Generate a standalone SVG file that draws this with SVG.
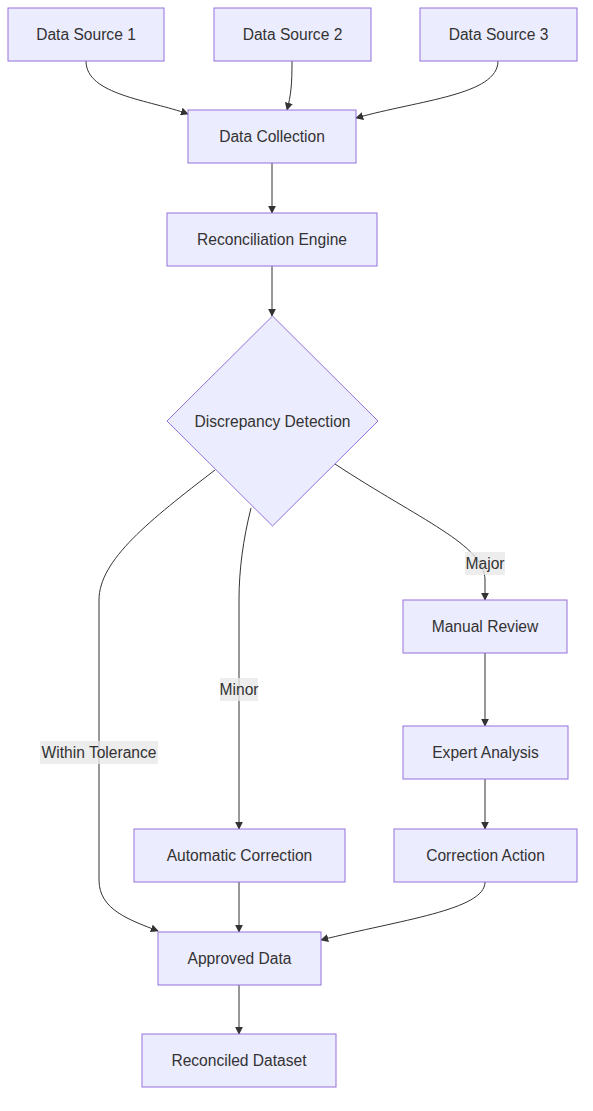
<svg xmlns="http://www.w3.org/2000/svg" width="593" height="1111" viewBox="0 0 593 1111">
<style>
.node rect,.node polygon{fill:#ECECFF;stroke:#9370DB;stroke-width:1}
text{font-family:"Liberation Sans",Arial,sans-serif;font-size:15.6px;fill:#333;text-anchor:middle;dominant-baseline:central}
.edge{fill:none;stroke:#333;stroke-width:1}
.lbl rect{fill:#e8e8e8;opacity:0.8}
</style>
<defs>
<marker id="arr" viewBox="0 0 10 10" refX="9" refY="5" markerWidth="8" markerHeight="8" markerUnits="userSpaceOnUse" orient="auto">
<path d="M0,0 L10,5 L0,10 z" fill="#333"/>
</marker>
</defs>
<rect width="593" height="1111" fill="#fff"/>
<g id="connectors">
<path class="edge" d="M86,61 C86,95 150,100 188,114" marker-end="url(#arr)"/>
<path class="edge" d="M292,61 C292,85 291,95 287,110" marker-end="url(#arr)"/>
<path class="edge" d="M498,61 C498,95 420,100 356,118" marker-end="url(#arr)"/>
<path class="edge" d="M272,163 L272,213" marker-end="url(#arr)"/>
<path class="edge" d="M272,266 L272,316" marker-end="url(#arr)"/>
<path class="edge" d="M215,470 C150,520 99,560 99,600 L99,880 C99,910 130,920 158,931" marker-end="url(#arr)"/>
<path class="edge" d="M251,508 C243,540 239,570 239,600 L239,829" marker-end="url(#arr)"/>
<path class="edge" d="M335,464 C420,520 485,545 485,580 L485,600" marker-end="url(#arr)"/>
<path class="edge" d="M485,653 L485,726" marker-end="url(#arr)"/>
<path class="edge" d="M485,779 L485,829" marker-end="url(#arr)"/>
<path class="edge" d="M239,882 L239,932" marker-end="url(#arr)"/>
<path class="edge" d="M485,882 C485,910 400,920 321,940" marker-end="url(#arr)"/>
<path class="edge" d="M239,985 L239,1034" marker-end="url(#arr)"/>
</g>
<g id="edge-labels">
<g class="lbl"><rect x="465" y="552" width="40" height="23"/><text x="485" y="563.5">Major</text></g>
<g class="lbl"><rect x="220" y="678" width="38" height="23"/><text x="239" y="689.5">Minor</text></g>
<g class="lbl"><rect x="40" y="741" width="118" height="23"/><text x="99" y="752.5">Within Tolerance</text></g>
</g>
<g id="ds1" class="node"><rect x="8" y="8" width="156" height="53"/><text x="86" y="34.5">Data Source 1</text></g>
<g id="ds2" class="node"><rect x="214" y="8" width="157" height="53"/><text x="292.5" y="34.5">Data Source 2</text></g>
<g id="ds3" class="node"><rect x="420" y="8" width="157" height="53"/><text x="498.5" y="34.5">Data Source 3</text></g>
<g id="dc" class="node"><rect x="188" y="110" width="168" height="53"/><text x="272" y="136.5">Data Collection</text></g>
<g id="re" class="node"><rect x="167" y="213" width="210" height="53"/><text x="272" y="239.5">Reconciliation Engine</text></g>
<g id="dd" class="node"><polygon points="272.5,316 378,421 272.5,526 167,421"/><text x="272.5" y="421">Discrepancy Detection</text></g>
<g id="mr" class="node"><rect x="403" y="600" width="164" height="53"/><text x="485" y="626.5">Manual Review</text></g>
<g id="ea" class="node"><rect x="403" y="726" width="165" height="53"/><text x="485.5" y="752.5">Expert Analysis</text></g>
<g id="ac" class="node"><rect x="134" y="829" width="211" height="53"/><text x="239.5" y="855.5">Automatic Correction</text></g>
<g id="ca" class="node"><rect x="394" y="829" width="183" height="53"/><text x="485.5" y="855.5">Correction Action</text></g>
<g id="ad" class="node"><rect x="158" y="932" width="163" height="53"/><text x="239.5" y="958.5">Approved Data</text></g>
<g id="rd" class="node"><rect x="142" y="1034" width="194" height="53"/><text x="239" y="1060.5">Reconciled Dataset</text></g>
</svg>
